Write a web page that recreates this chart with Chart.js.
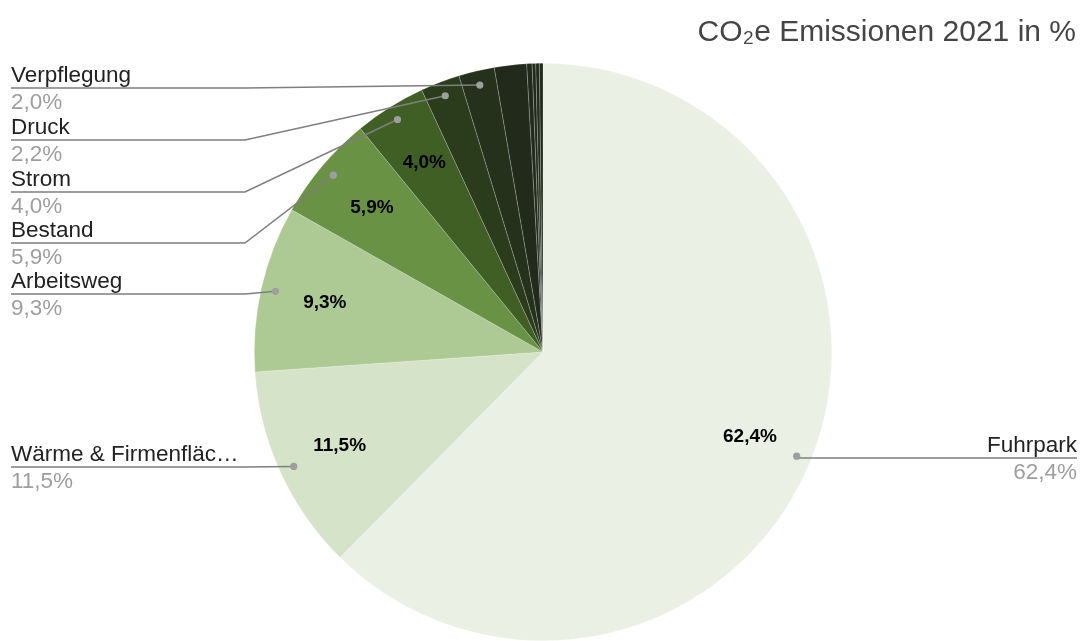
<!DOCTYPE html>
<html>
<head>
<meta charset="utf-8">
<title>CO₂e Emissionen 2021 in %</title>
<script src="https://cdn.jsdelivr.net/npm/chart.js@4/dist/chart.umd.min.js"></script>
<style>
  html, body { margin: 0; padding: 0; background: #ffffff; }
  #wrap { width: 1084px; height: 641px; position: relative; }
</style>
</head>
<body>
<div id="wrap"><canvas id="chart"></canvas></div>
<script>
// Emission sources, clockwise from twelve o'clock
const categories = [
  'Fuhrpark', 'Wärme & Firmenfläche', 'Arbeitsweg', 'Bestand', 'Strom',
  'Druck', 'Verpflegung', 'Sonstige A', 'Sonstige B', 'Sonstige C',
  'Sonstige D', 'Sonstige E'
];
// Share of total CO2e emissions in percent
const shares = [62.4, 11.5, 9.3, 5.9, 4.0, 2.2, 2.0, 1.8, 0.3, 0.2, 0.2, 0.2];
const sliceColors = [
  '#eaf0e3', '#d5e3c8', '#aeca94', '#6a9245', '#3f5f25',
  '#2b3c1c', '#25311a', '#212a1b', '#212a1b', '#212a1b',
  '#212a1b', '#212a1b'
];
const chartTitle = 'CO₂e Emissionen 2021 in %';

const FONT = '"Liberation Sans", Arial, Helvetica, sans-serif';
const MAX_LABEL_CHARS = 18;
const fmt = v => v.toFixed(1).replace('.', ',') + '%';
const shorten = t => (t.length > MAX_LABEL_CHARS ? t.slice(0, MAX_LABEL_CHARS) + '…' : t);

// Where each callout text sits (by slice index); slices without an entry get no callout
const callouts = {
  0: { side: 'right', y: 458, endX: 1077 },
  1: { side: 'left', y: 467, endX: 11 },
  2: { side: 'left', y: 294, endX: 11 },
  3: { side: 'left', y: 243, endX: 11 },
  4: { side: 'left', y: 192, endX: 11 },
  5: { side: 'left', y: 140, endX: 11 },
  6: { side: 'left', y: 88, endX: 11 }
};

const labelPlugin = {
  id: 'sliceLabels',
  afterDatasetsDraw(chart) {
    const ctx = chart.ctx;
    const meta = chart.getDatasetMeta(0);
    ctx.save();
    meta.data.forEach((arc, i) => {
      const p = arc.getProps(['x', 'y', 'startAngle', 'endAngle', 'outerRadius'], true);
      const mid = (p.startAngle + p.endAngle) / 2;
      const v = shares[i];

      // value inside the larger slices
      if (v >= 4) {
        const r = p.outerRadius * 0.775;
        ctx.font = 'bold 19px ' + FONT;
        ctx.fillStyle = '#000000';
        ctx.textAlign = 'center';
        ctx.textBaseline = 'middle';
        ctx.fillText(fmt(v), p.x + Math.cos(mid) * r, p.y + Math.sin(mid) * r);
      }

      const c = callouts[i];
      if (!c) return;
      const dr = p.outerRadius * 0.95;
      const dx = p.x + Math.cos(mid) * dr;
      const dy = p.y + Math.sin(mid) * dr;
      const elbowX = c.side === 'left' ? Math.min(245, dx) : dx;

      ctx.strokeStyle = '#7f7f7f';
      ctx.lineWidth = 1.5;
      ctx.beginPath();
      ctx.moveTo(dx, dy);
      ctx.lineTo(elbowX, c.y);
      ctx.lineTo(c.endX, c.y);
      ctx.stroke();

      ctx.fillStyle = '#9e9e9e';
      ctx.beginPath();
      ctx.arc(dx, dy, 3.6, 0, Math.PI * 2);
      ctx.fill();

      ctx.textAlign = c.side === 'left' ? 'left' : 'right';
      ctx.textBaseline = 'alphabetic';
      ctx.font = '22.5px ' + FONT;
      ctx.fillStyle = '#222222';
      ctx.fillText(shorten(categories[i]), c.endX, c.y - 6);
      ctx.fillStyle = '#9e9e9e';
      ctx.fillText(fmt(v), c.endX, c.y + 21);
    });

    // chart title, right aligned
    ctx.font = '30px ' + FONT;
    ctx.fillStyle = '#454545';
    ctx.textAlign = 'right';
    ctx.textBaseline = 'alphabetic';
    ctx.fillText(chartTitle, 1076, 41);
    ctx.restore();
  }
};

new Chart(document.getElementById('chart'), {
  type: 'pie',
  data: {
    labels: categories,
    datasets: [{
      data: shares,
      backgroundColor: sliceColors,
      borderColor: 'rgba(255,255,255,0.35)',
      borderWidth: 0.6
    }]
  },
  options: {
    responsive: true,
    maintainAspectRatio: false,
    animation: false,
    layout: { padding: { top: 63, bottom: 0, left: 254, right: 252 } },
    plugins: {
      legend: { display: false },
      tooltip: { enabled: false },
      title: { display: false }
    }
  },
  plugins: [labelPlugin]
});
</script>
</body>
</html>
